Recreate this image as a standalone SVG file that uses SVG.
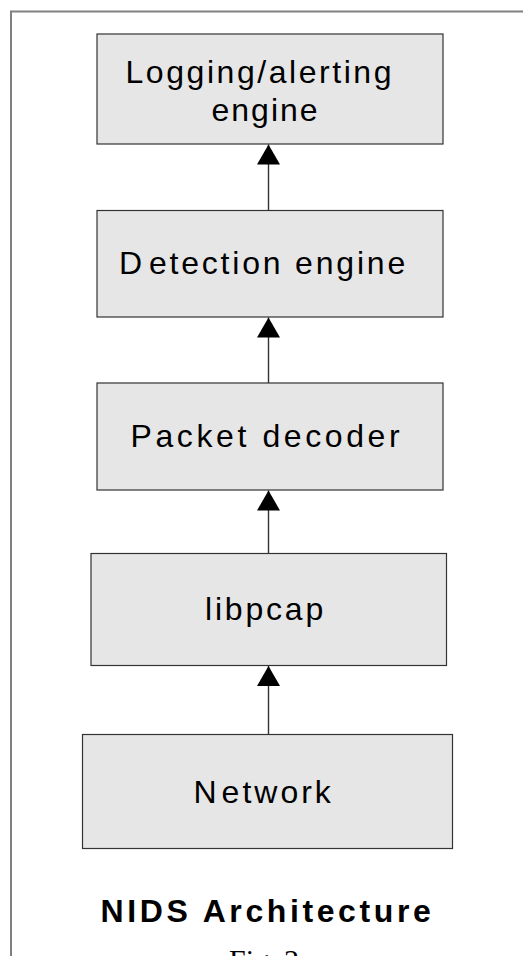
<svg xmlns="http://www.w3.org/2000/svg" width="523" height="956" viewBox="0 0 523 956">
<style>
.box{fill:#e6e6e6;stroke:#333;stroke-width:1.2}
.lbl{font-family:"Liberation Sans",Arial,sans-serif;font-size:32px;fill:#000}
.conn{stroke:#333;stroke-width:1.4;fill:none}
.frame{stroke:#808080;stroke-width:2;fill:none}
</style>
<defs>
<marker id="ah" markerUnits="userSpaceOnUse" markerWidth="21" markerHeight="23" refX="20" refY="11.5" orient="auto">
<path d="M0,0 L20,11.5 L0,23 z" fill="#000"/>
</marker>
</defs>
<rect width="523" height="956" fill="#fff"/>
<path class="frame" d="M11,956 V11.5 H523"/>
<g id="connectors">
<line class="conn" x1="268.5" y1="210.5" x2="268.5" y2="144.5" marker-end="url(#ah)"/>
<line class="conn" x1="268.5" y1="383" x2="268.5" y2="317.5" marker-end="url(#ah)"/>
<line class="conn" x1="268.5" y1="553.5" x2="268.5" y2="490.5" marker-end="url(#ah)"/>
<line class="conn" x1="268.5" y1="734.5" x2="268.5" y2="666" marker-end="url(#ah)"/>
</g>
<g id="logging">
<rect class="box" x="97" y="34" width="346" height="110"/>
<text class="lbl" x="125.5" y="83" letter-spacing="2.55">Logging/alerting</text>
<text class="lbl" x="211.5" y="121" letter-spacing="2">engine</text>
</g>
<g id="detection">
<rect class="box" x="97" y="210.5" width="346" height="106.5"/>
<text class="lbl" x="119" y="274" letter-spacing="2.8"><tspan>D</tspan><tspan dx="4">etection engine</tspan></text>
</g>
<g id="decoder">
<rect class="box" x="97" y="383" width="346" height="107"/>
<text class="lbl" x="130.5" y="447" letter-spacing="3.6">Packet decoder</text>
</g>
<g id="libpcap">
<rect class="box" x="91" y="553.5" width="355.5" height="112"/>
<text class="lbl" x="205" y="620" letter-spacing="2.8">libpcap</text>
</g>
<g id="network">
<rect class="box" x="82.5" y="734.5" width="370" height="114"/>
<text class="lbl" x="193.5" y="803" letter-spacing="3"><tspan>N</tspan><tspan dx="2">etwork</tspan></text>
</g>
<g id="title">
<text class="lbl" x="100.5" y="922" font-weight="bold" letter-spacing="3.6">NIDS Architecture</text>
<text x="229" y="970" font-family="'Liberation Serif','Times New Roman',serif" font-size="30" fill="#000">Fig. 2</text>
</g>
</svg>
